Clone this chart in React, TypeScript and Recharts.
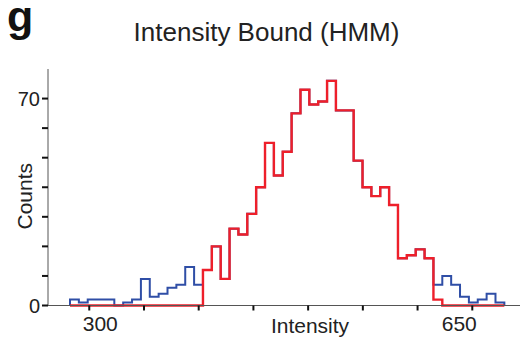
import React from 'react';
import { LineChart, Line, XAxis, YAxis } from 'recharts';

// Histogram bins (left edges from binStart, equal width)
const binStart = 282.4;
const binWidth = 8.1;
const totalCounts = [
  2, 1, 2, 2, 2, 0, 1, 2, 9, 3, 4, 6, 7, 13, 7,
  12, 20, 9, 26, 24, 31, 40, 55, 44, 52, 65, 73, 68, 69, 76, 66, 66, 49, 40, 37, 40, 34, 16, 17, 19, 16,
  7, 10, 7, 3, 1, 2, 4, 1,
];
const boundCounts = [
  0, 0, 0, 0, 0, 0, 0, 0, 0, 0, 0, 0, 0, 0, 0,
  12, 20, 9, 26, 24, 31, 40, 55, 44, 52, 65, 73, 68, 69, 76, 66, 66, 49, 40, 37, 40, 34, 16, 17, 19, 16,
  2, 0, 0, 0, 0, 0, 0, 0,
];
const xTicks = [300, 350, 400, 450, 500, 550, 600, 650];
const xTickLabels = [300, 650];
const yTicks = [0, 10, 20, 30, 40, 50, 60, 70];
const yTickLabels = [0, 70];

const data: { x: number; total: number; bound: number }[] = [];
data.push({ x: binStart, total: 0, bound: 0 });
totalCounts.forEach((t, i) => {
  data.push({ x: binStart + i * binWidth, total: t, bound: boundCounts[i] });
});
data.push({ x: binStart + totalCounts.length * binWidth, total: 0, bound: 0 });

const FONT = '"Liberation Sans", Arial, Helvetica, sans-serif';
const labelShift: Record<number, number> = { 300: 11, 650: -13 };

const XTick = (props: any) => {
  const { x, y, payload } = props;
  if (!xTickLabels.includes(payload.value)) return null;
  return (
    <text x={x + (labelShift[payload.value] || 0)} y={y + 4} dy="0.71em" textAnchor="middle"
      fontSize={21} fill="#222" fontFamily={FONT}>
      {payload.value}
    </text>
  );
};

const YTick = (props: any) => {
  const { x, y, payload } = props;
  if (!yTickLabels.includes(payload.value)) return null;
  return (
    <text x={x} y={y} dy="0.355em" textAnchor="end" fontSize={20} fill="#222" fontFamily={FONT}>
      {payload.value}
    </text>
  );
};

const CountsLabel = (props: any) => {
  const vb = props.viewBox || { x: 0, y: 0, width: 48, height: 236 };
  const cx = vb.x + 25;
  const cy = vb.y + vb.height / 2 + 9;
  return (
    <text x={cx} y={cy} transform={`rotate(-90, ${cx}, ${cy})`} textAnchor="middle" dy="0.355em"
      fontSize={21} fill="#222" fontFamily={FONT}>
      Counts
    </text>
  );
};

const IntensityLabel = (props: any) => {
  const vb = props.viewBox || { x: 48, y: 305, width: 472, height: 30 };
  const cx = vb.x + vb.width / 2 + 26;
  return (
    <text x={cx} y={333} textAnchor="middle" fontSize={21} fill="#222" fontFamily={FONT}>
      Intensity
    </text>
  );
};

export default function App() {
  return (
    <div style={{ position: 'absolute', left: 0, top: 0, width: 520, height: 337, background: '#fff', fontFamily: FONT }}>
      <div style={{ position: 'absolute', left: 7, top: 5, fontSize: 43, fontWeight: 'bold', color: '#111', lineHeight: '22px' }}>g</div>
      <div style={{ position: 'absolute', left: 0, width: 533, top: 18, textAlign: 'center', fontSize: 26, color: '#222', lineHeight: '28px' }}>
        Intensity Bound (HMM)
      </div>
      <div style={{ position: 'absolute', left: 0, top: 0 }}>
        <LineChart width={520} height={337} data={data} margin={{ top: 69, right: 0, bottom: 1.5, left: 0 }}>
          <XAxis xAxisId="top" orientation="top" dataKey="x" type="number" domain={[262.3, 693.6]}
            height={0} tick={false} tickLine={false} axisLine={{ stroke: '#555', strokeWidth: 1 }} />
          <XAxis dataKey="x" type="number" domain={[262.3, 693.6]} ticks={xTicks} height={30}
            tickSize={5} tickLine={{ stroke: '#111', strokeWidth: 2 }} axisLine={{ stroke: '#555', strokeWidth: 1 }}
            tick={<XTick />} interval={0} allowDataOverflow label={<IntensityLabel />} />
          <YAxis type="number" domain={[0, 80]} ticks={yTicks} width={48} tickSize={6}
            tickLine={{ stroke: '#111', strokeWidth: 2 }} axisLine={{ stroke: '#555', strokeWidth: 1 }}
            tick={<YTick />} interval={0} label={<CountsLabel />} />
          <Line xAxisId={0} dataKey="total" type="stepAfter" stroke="#2f4ea6" strokeWidth={2} dot={false}
            isAnimationActive={false} />
          <Line xAxisId={0} dataKey="bound" type="stepAfter" stroke="#ee1f2a" strokeWidth={2.4} dot={false}
            isAnimationActive={false} />
        </LineChart>
      </div>
    </div>
  );
}
